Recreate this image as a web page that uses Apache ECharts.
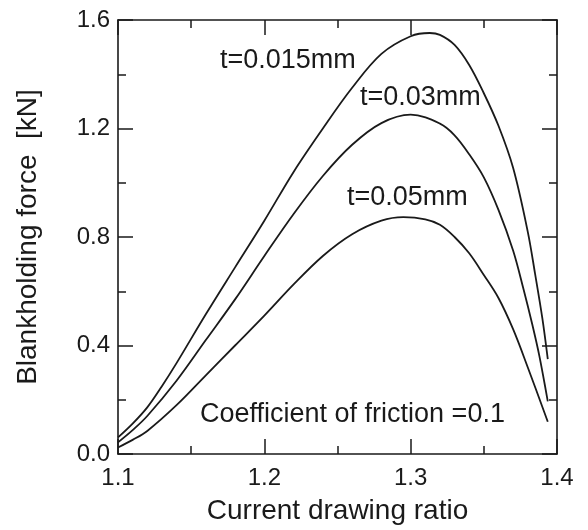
<!DOCTYPE html>
<html>
<head>
<meta charset="utf-8">
<script src="https://cdn.jsdelivr.net/npm/echarts@6/dist/echarts.min.js"></script>
<style>
  html, body { margin: 0; padding: 0; background: #fff; }
  #chart { width: 588px; height: 530px; }
</style>
</head>
<body>
<div id="chart"></div>
<script>
// drawing ratio (x) and blankholding force in kN (y)
const ratio015 = [1.1, 1.11, 1.12, 1.13, 1.14, 1.16, 1.18, 1.2, 1.22, 1.24, 1.26, 1.28, 1.3, 1.313, 1.32, 1.33, 1.34, 1.35, 1.36, 1.37, 1.38, 1.385, 1.39, 1.3937]
const force015 = [0.061, 0.112, 0.172, 0.25, 0.335, 0.515, 0.688, 0.86, 1.04, 1.2, 1.35, 1.475, 1.54, 1.552, 1.545, 1.508, 1.434, 1.33, 1.21, 1.055, 0.82, 0.665, 0.5, 0.35]

const ratio03 = [1.1, 1.11, 1.12, 1.14, 1.16, 1.18, 1.2, 1.22, 1.24, 1.26, 1.28, 1.3, 1.32, 1.33, 1.34, 1.35, 1.36, 1.37, 1.377, 1.383, 1.388, 1.3937]
const force03 = [0.043, 0.088, 0.14, 0.27, 0.42, 0.57, 0.73, 0.885, 1.025, 1.14, 1.22, 1.251, 1.218, 1.175, 1.105, 1.02, 0.9, 0.75, 0.61, 0.48, 0.36, 0.194]

const ratio05 = [1.1, 1.11, 1.12, 1.14, 1.16, 1.18, 1.2, 1.22, 1.24, 1.26, 1.28, 1.295, 1.31, 1.32, 1.33, 1.34, 1.35, 1.36, 1.37, 1.38, 1.3937]
const force05 = [0.024, 0.052, 0.085, 0.18, 0.29, 0.4, 0.51, 0.625, 0.73, 0.81, 0.86, 0.873, 0.865, 0.845, 0.80, 0.74, 0.66, 0.575, 0.46, 0.32, 0.119]

const xTicks = [1.1, 1.2, 1.3, 1.4]
const yTicks = [0.0, 0.4, 0.8, 1.2, 1.6]

const seriesNames = ['t=0.015mm', 't=0.03mm', 't=0.05mm']
const noteText = 'Coefficient of friction =0.1'

const font = 'Liberation Sans, Arial, Helvetica, sans-serif'
const ink = '#1a1a1a'

function zip (xs, ys) {
  return xs.map((x, i) => [x, ys[i]])
}

function makeAxis (pos, isX, showLabel) {
  const ticks = isX ? xTicks : yTicks
  return {
    type: 'value',
    position: pos,
    min: ticks[0],
    max: ticks[ticks.length - 1],
    interval: ticks[1] - ticks[0],
    axisLine: { show: true, onZero: false, lineStyle: { color: ink, width: 1.6 } },
    axisTick: { show: true, inside: true, length: 15, lineStyle: { color: ink, width: 1.5 } },
    minorTick: { show: true, splitNumber: 2, length: 8, lineStyle: { color: ink, width: 1.5 } },
    splitLine: { show: false },
    axisLabel: {
      show: showLabel,
      color: ink,
      fontFamily: font,
      fontSize: 24,
      margin: isX ? 12 : 8,
      formatter: v => v.toFixed(1)
    }
  }
}

const chart = echarts.init(document.getElementById('chart'), null, { renderer: 'canvas' })

const xBottom = makeAxis('bottom', true, true)
xBottom.name = 'Current drawing ratio'
xBottom.nameLocation = 'middle'
xBottom.nameGap = 43
xBottom.nameTextStyle = { color: ink, fontFamily: font, fontSize: 28 }

const yLeft = makeAxis('left', false, true)
yLeft.name = 'Blankholding force  [kN]'
yLeft.nameLocation = 'middle'
yLeft.nameGap = 76
yLeft.nameTextStyle = { color: ink, fontFamily: font, fontSize: 28 }

const lineData = [zip(ratio015, force015), zip(ratio03, force03), zip(ratio05, force05)]

chart.setOption({
  animation: false,
  backgroundColor: '#fff',
  grid: { left: 118, top: 20, right: 31, bottom: 70 },
  xAxis: [xBottom, makeAxis('top', true, false)],
  yAxis: [yLeft, makeAxis('right', false, false)],
  series: lineData.map((d, i) => ({
    name: seriesNames[i],
    type: 'line',
    data: d,
    smooth: 0.35,
    showSymbol: false,
    lineStyle: { color: ink, width: 1.8 }
  })),
  graphic: [
    { type: 'text', left: 220, top: 47, style: { text: seriesNames[0], font: '27px ' + font, fill: ink } },
    { type: 'text', left: 360, top: 84, style: { text: seriesNames[1], font: '27px ' + font, fill: ink } },
    { type: 'text', left: 347, top: 184, style: { text: seriesNames[2], font: '27px ' + font, fill: ink } },
    { type: 'text', left: 200, top: 401, style: { text: noteText, font: '27px ' + font, fill: ink } }
  ]
})
</script>
</body>
</html>
